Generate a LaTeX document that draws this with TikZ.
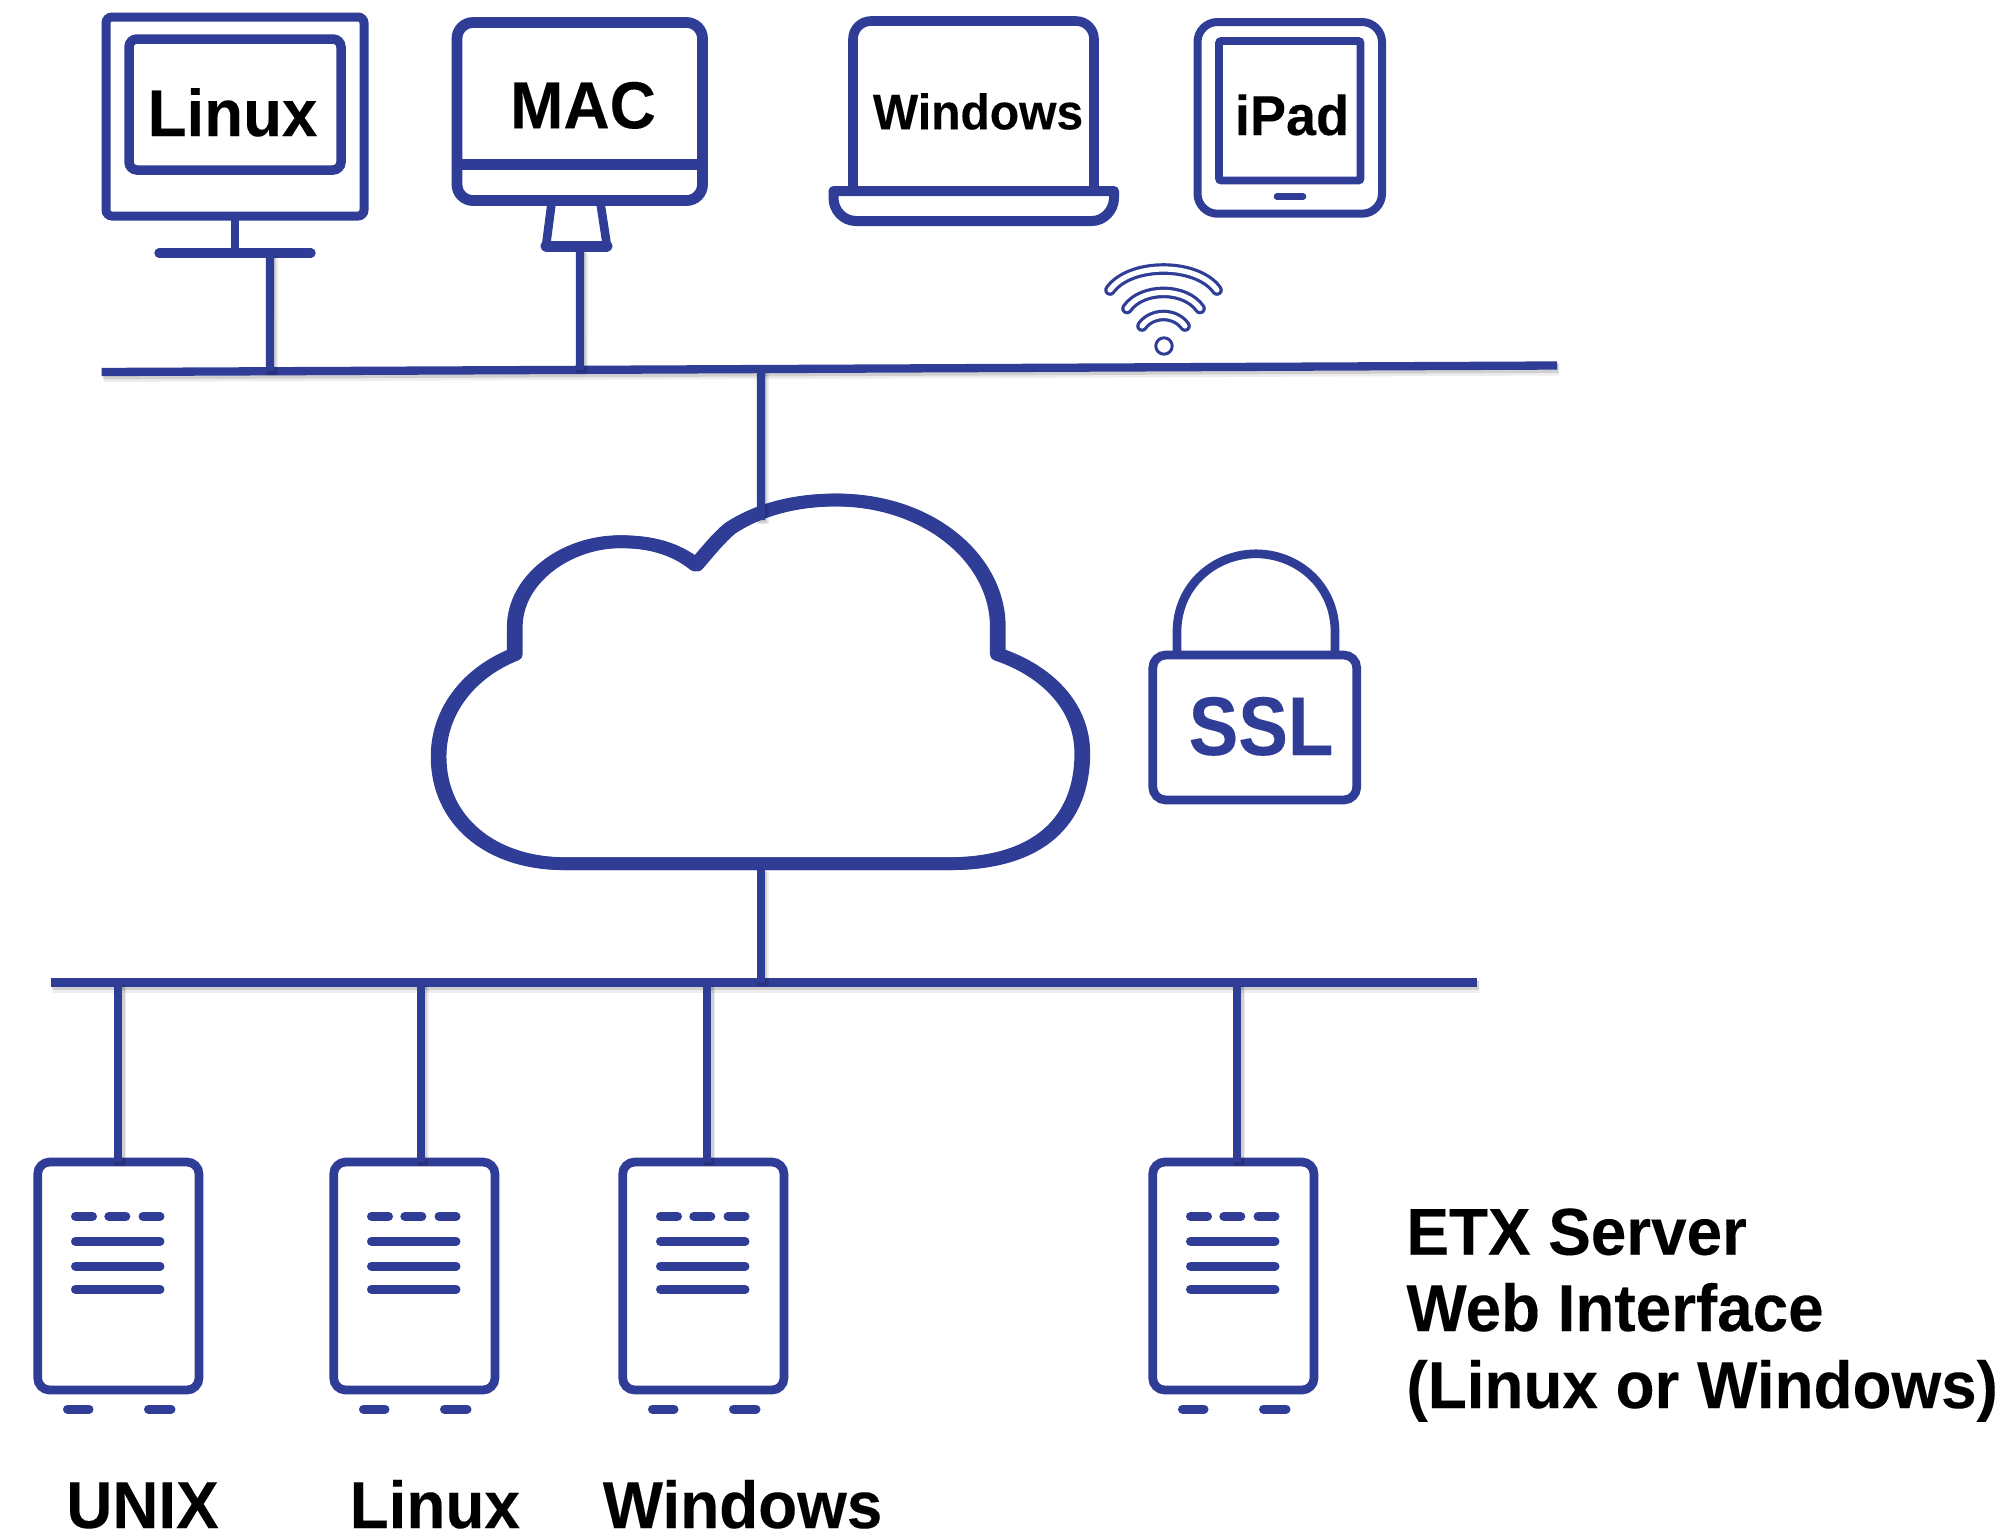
\documentclass[tikz,border=0pt]{standalone}
\usepackage{fontspec}
\setmainfont{Liberation Sans}[BoldFeatures={FakeBold=0.15}]
\usetikzlibrary{calc}
\definecolor{ink}{HTML}{2F3D97}
\newcommand{\tallbox}[1]{\scalebox{1}[1.04]{#1}}
\newcommand{\cloudoutline}{
  (565,863.7) -- (948.7,863.7)
  .. controls (1040,863.7) and (1082.3,820) .. (1082.3,753.3)
  .. controls (1082.3,705) and (1045,670) .. (997.8,654.3)
  -- (997.8,626.7)
  .. controls (997.8,560) and (930,500) .. (836.2,500)
  .. controls (790,500) and (755,512) .. (730.6,528)
  .. controls (718,538) and (705,555) .. (696,565)
  .. controls (675,548) and (650,541.7) .. (620.4,541.7)
  .. controls (565,541.7) and (514.8,580) .. (514.8,626.7)
  -- (514.8,654.3)
  .. controls (470,672) and (438.6,710) .. (438.6,756.7)
  .. controls (438.6,820) and (490,863.7) .. (565,863.7) -- cycle}
\tikzset{
  softshadow/.style={
    preaction={draw=black,draw opacity=.07,line width=6pt,transform canvas={xshift=1pt,yshift=-2pt}},
    preaction={draw=black,draw opacity=.12,line width=4.6pt,transform canvas={xshift=.8pt,yshift=-1.4pt}}},
  wire/.style={draw=ink,line width=4.15pt,softshadow},
  devbox/.style={draw=ink,rectangle,inner sep=0pt,outer sep=0pt},
  stroke/.style={draw=ink,line width=#1,line join=round},
  pill/.style={draw=ink,line width=#1,line cap=round},
  wifi/.style={draw=ink,line width=1.6pt,double=white,double distance=2.6pt,line cap=round},
  cloudline/.style={draw=ink,line width=6.35pt,line join=round},
  biglabel/.style={inner sep=0pt,outer sep=0pt,text depth=0pt,font=\fontsize{31.9pt}{38.3pt}\selectfont\bfseries,text=black}
}
\begin{document}
\begin{tikzpicture}[x=0.5pt,y=-0.5pt]
\useasboundingbox (0,0) rectangle (2003,1533);
\fill[white] (0,0) rectangle (2003,1533);

% Buses
\coordinate (busa) at (101.7,372);
\coordinate (busb) at (1557,365.5);
\coordinate (lowa) at (50.7,982.5);
\coordinate (lowb) at (1477,982.5);

% Cloud
\fill[white] \cloudoutline;
\draw[cloudline,transform canvas={xshift=-.75pt}] \cloudoutline;
\draw[cloudline,transform canvas={xshift=.75pt}] \cloudoutline;
\coordinate (cloudtop) at (761,520);
\coordinate (cloudbot) at (761,868);

% Linux monitor
\node[devbox,line width=4.5pt,rounded corners=3pt,minimum width=129pt,minimum height=99.5pt] (linuxmon) at (235,116.5) {};
\node[devbox,line width=4.75pt,rounded corners=4pt,minimum width=106pt,minimum height=65.5pt] (linuxscr) at (235,104.5) {};
\node[inner sep=0pt,anchor=base,font=\fontsize{31.8pt}{36pt}\selectfont\bfseries] (linuxtxt) at (232.5,136) {\tallbox{Linux}};
\coordinate (linuxneck) at (235,252.7);
\draw[stroke=4.4pt] (linuxmon.south -| linuxneck) -- (linuxneck);
\draw[pill=4.7pt] (159,253) -- (311,253);
\coordinate (linuxbase) at (270,253);

% Mac
\node[devbox,line width=5.4pt,rounded corners=8pt,minimum width=122.75pt,minimum height=89pt] (mac) at (579.75,111.5) {};
\draw[stroke=5.5pt] (mac.west |- 0,164.5) -- (mac.east |- 0,164.5);
\node[inner sep=0pt,anchor=base,font=\fontsize{32pt}{36pt}\selectfont\bfseries] (mactxt) at (583,128.3) {\tallbox{MAC}};
\draw[stroke=4.3pt] (552,200) -- (546,246) -- (607,246) -- (600,200);
\draw[pill=5.5pt] (546,246) -- (607,246);
\coordinate (macbase) at (580,249);

% Laptop
\draw[stroke=4.8pt,rounded corners=9pt] (853,191) -- (853,21) -- (1094,21) -- (1094,191);
\draw[stroke=5pt] (833.5,191) -- (1114,191) -- (1114,198)
  .. controls (1114,210) and (1104,221) .. (1092,221) -- (856,221)
  .. controls (843,221) and (833.5,210) .. (833.5,198) -- cycle;
\node[inner sep=0pt,anchor=base,font=\fontsize{24pt}{28pt}\selectfont\bfseries] (wintxt) at (978,129.3) {\tallbox{Windows}};

% iPad
\node[devbox,line width=4pt,rounded corners=10pt,minimum width=92.25pt,minimum height=95.85pt] (ipad) at (1289.75,117.85) {};
\node[devbox,line width=3.8pt,rounded corners=1pt,minimum width=70.75pt,minimum height=69.75pt] (ipadscr) at (1289.75,110.75) {};
\draw[pill=3.3pt] (1277,196.6) -- (1303,196.6);
\node[inner sep=0pt,anchor=base,font=\fontsize{27pt}{30pt}\selectfont\bfseries] (ipadtxt) at (1292,135) {\tallbox{iPad}};

% Wifi
\draw[wifi] (1110,290) .. controls (1130,262) and (1197,262) .. (1217,290);
\draw[wifi] (1127,308.5) .. controls (1142,287) and (1185,287) .. (1200,308.5);
\draw[wifi] (1142,326) .. controls (1152,312) and (1175,312) .. (1185,326);
\node[draw=ink,line width=1.5pt,circle,inner sep=0pt,minimum size=8.2pt] (wifidot) at (1164,346) {};

% Lock
\node[devbox,line width=4.35pt,rounded corners=6.5pt,minimum width=102pt,minimum height=72.5pt] (lockbody) at (1254.75,727.5) {};
\draw[stroke=4.35pt] (1177,655) -- (1177,632)
  .. controls (1177,585) and (1215,553.8) .. (1256,553.8)
  .. controls (1297,553.8) and (1335,585) .. (1335,632) -- (1335,655);
\node[inner sep=0pt,anchor=base,text=ink,font=\fontsize{40pt}{44pt}\selectfont\bfseries] (ssltxt) at (1261,755) {\scalebox{.93}[1.04]{SSL}};

% Servers
\foreach \i/\dx in {1/0,2/296,3/585,4/1115}{
  \begin{scope}[shift={(\dx,0)}]
    \node[devbox,line width=4.35pt,rounded corners=6pt,minimum width=80.65pt,minimum height=114pt] (srv\i) at (118.35,1276) {};
    \foreach \ax/\bx in {75.5/92.5,108.8/125.8,143/160}
      \draw[pill=4.5pt] (\ax,1216.3) -- (\bx,1216.3);
    \foreach \yy in {1241.3,1266,1289.3}
      \draw[pill=4.5pt] (75.5,\yy) -- (160,\yy);
    \draw[pill=4.5pt] (67.5,1409) -- (89,1409);
    \draw[pill=4.5pt] (148.5,1409) -- (171,1409);
  \end{scope}
}

% Connectors
\draw[wire] (busa) -- (busb);
\draw[wire] (lowa) -- (lowb);
\coordinate (t1) at ($(busa)!.1157!(busb)$);
\coordinate (t2) at ($(busa)!.3287!(busb)$);
\coordinate (t3) at ($(busa)!.453!(busb)$);
\draw[wire] (linuxbase) -- (t1);
\draw[wire] (macbase) -- (t2);
\draw[wire] (t3) -- (cloudtop);
\coordinate (cc) at (761,982.5);
\draw[wire] (cloudbot) -- (cc);
\coordinate (b1) at (118.3,982.5);
\coordinate (b2) at (420.7,982.5);
\coordinate (b3) at (707.3,982.5);
\coordinate (b4) at (1237.3,982.5);
\draw[wire] (b1) -- (b1 |- srv1.north);
\draw[wire] (b2) -- (b2 |- srv2.north);
\draw[wire] (b3) -- (b3 |- srv3.north);
\draw[wire] (b4) -- (b4 |- srv4.north);

% Labels
\node[biglabel,anchor=base] (lab1) at (142.5,1528) {\tallbox{UNIX}};
\node[biglabel,anchor=base] (lab2) at (434.8,1528) {\tallbox{Linux}};
\node[biglabel,anchor=base] (lab3) at (742.5,1528) {\tallbox{Windows}};
\node[biglabel,anchor=base west] (etxa) at (1406.5,1254.7) {\tallbox{ETX Server}};
\node[biglabel,anchor=base west] (etxb) at (1406.5,1331) {\tallbox{Web Interface}};
\node[biglabel,anchor=base west] (etxc) at (1406.5,1408) {\tallbox{(Linux or Windows)}};
\end{tikzpicture}
\end{document}
